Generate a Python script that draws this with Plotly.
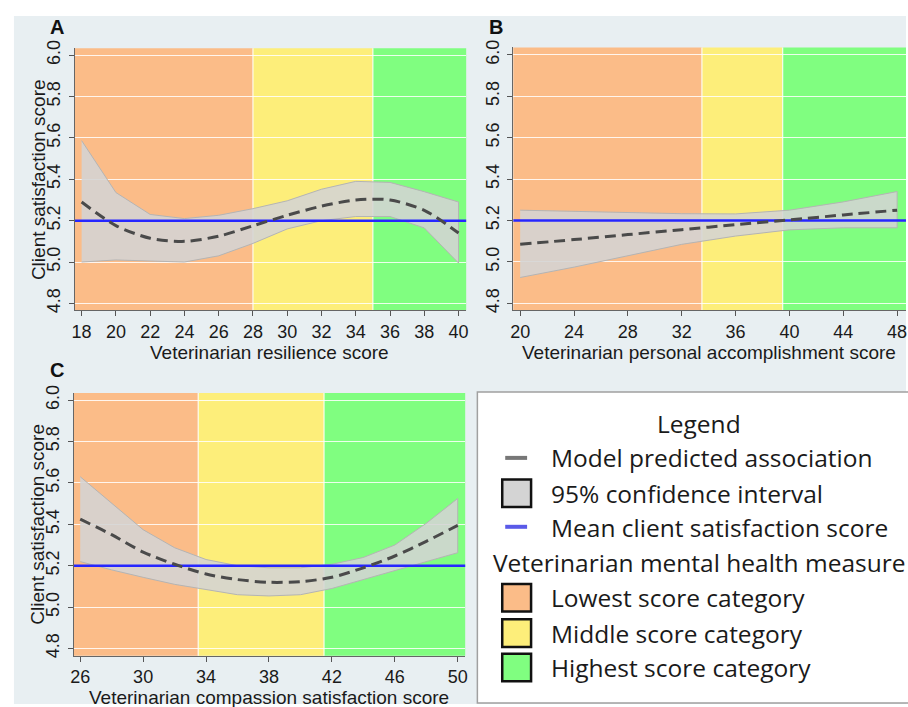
import plotly.graph_objects as go

# ---------------- data ----------------
A_x = [18, 20, 22, 24, 26, 28, 30, 32, 34, 36, 38, 40]
A_fit = [5.29, 5.176, 5.115, 5.10, 5.125, 5.175, 5.226, 5.27, 5.30, 5.30, 5.25, 5.14]
A_hi = [5.587, 5.336, 5.23, 5.21, 5.226, 5.258, 5.296, 5.352, 5.39, 5.385, 5.34, 5.29]
A_lo = [5.0, 5.01, 5.005, 5.0, 5.03, 5.09, 5.16, 5.2, 5.22, 5.22, 5.165, 4.995]
A_cuts = [28, 35]

B_x = [20, 24, 28, 32, 36, 40, 44, 48]
B_fit = [5.085, 5.108, 5.132, 5.156, 5.18, 5.203, 5.227, 5.25]
B_hi = [5.25, 5.245, 5.24, 5.233, 5.232, 5.25, 5.29, 5.34]
B_lo = [4.925, 4.975, 5.03, 5.085, 5.125, 5.155, 5.165, 5.165]
B_cuts = [33.5, 39.5]

C_x = [26, 28, 30, 32, 34, 36, 38, 40, 42, 44, 46, 48, 50]
C_fit = [5.425, 5.35, 5.266, 5.207, 5.16, 5.133, 5.12, 5.123, 5.144, 5.19, 5.247, 5.318, 5.395]
C_hi = [5.63, 5.50, 5.374, 5.287, 5.23, 5.20, 5.19, 5.19, 5.207, 5.24, 5.30, 5.405, 5.525]
C_lo = [5.22, 5.18, 5.144, 5.11, 5.085, 5.06, 5.054, 5.06, 5.09, 5.136, 5.176, 5.22, 5.263]
C_cuts = [33.5, 41.5]

mean_score = 5.2
y_ticks = [4.8, 5.0, 5.2, 5.4, 5.6, 5.8, 6.0]
A_ticks = [18, 20, 22, 24, 26, 28, 30, 32, 34, 36, 38, 40]
B_ticks = [20, 24, 28, 32, 36, 40, 44, 48]
C_ticks = [26, 30, 34, 38, 42, 46, 50]

titles_x = ["Veterinarian resilience score",
            "Veterinarian personal accomplishment score",
            "Veterinarian compassion satisfaction score"]
y_title = "Client satisfaction score"
legend_items = ["Model predicted association", "95% confidence interval",
                "Mean client satisfaction score"]
legend_sub = "Veterinarian mental health measure"
cat_items = ["Lowest score category", "Middle score category", "Highest score category"]

# ---------------- style ----------------
W, H = 908, 707
ORANGE = "#fbbc88"
YELLOW = "#fdee7a"
GREEN = "#80fe80"
BLUE = "#2626ff"
PANEL_BG = "#e8eff2"
CI_FILL = "rgba(212,212,212,0.88)"
CI_EDGE = "#b4b4b4"
FIT_COL = "#4a4a4a"
TXT = "#1a1a1a"
AX_FONT = "Liberation Sans, Arial, sans-serif"
LEG_FONT = "Open Sans, Noto Sans, sans-serif"
LEG_SIZE = 24.5

def px_x(p):
    return p / W

def px_y(p):
    return 1 - p / H

panels = [
    dict(ax="", x=A_x, fit=A_fit, hi=A_hi, lo=A_lo, cuts=A_cuts, ticks=A_ticks,
         xr=[17.59, 40.46], yr=[4.767, 6.033], dom_x=[72, 466], dom_y=[41, 307]),
    dict(ax="2", x=B_x, fit=B_fit, hi=B_hi, lo=B_lo, cuts=B_cuts, ticks=B_ticks,
         xr=[19.48, 48.66], yr=[4.767, 6.036], dom_x=[513, 908], dom_y=[40, 307]),
    dict(ax="3", x=C_x, fit=C_fit, hi=C_hi, lo=C_lo, cuts=C_cuts, ticks=C_ticks,
         xr=[25.58, 50.49], yr=[4.765, 6.035], dom_x=[71, 465], dom_y=[391, 658]),
]

fig = go.Figure()
shapes = []
annotations = []

def ann(text, x, y, size, font=AX_FONT, xanchor="center", angle=0, color=TXT):
    annotations.append(dict(text=text, x=px_x(x), y=px_y(y), xref="paper", yref="paper",
                            xanchor=xanchor, yanchor="middle", showarrow=False,
                            textangle=angle, font=dict(family=font, size=size, color=color)))

# panel background
shapes.append(dict(type="rect", xref="paper", yref="paper", x0=px_x(11), x1=1, y0=0,
                   y1=px_y(8), fillcolor=PANEL_BG, line=dict(width=0), layer="below"))

layout_axes = {}
for p in panels:
    xa = "x" + p["ax"]
    ya = "y" + p["ax"]
    # CI band
    fig.add_trace(go.Scatter(x=p["x"] + p["x"][::-1], y=p["hi"] + p["lo"][::-1],
                             xaxis=xa, yaxis=ya, fill="toself", fillcolor=CI_FILL,
                             line=dict(color=CI_EDGE, width=1), mode="lines",
                             hoverinfo="skip", showlegend=False))
    # mean line
    fig.add_trace(go.Scatter(x=p["xr"], y=[mean_score, mean_score], xaxis=xa, yaxis=ya,
                             mode="lines", line=dict(color=BLUE, width=2.5),
                             showlegend=False, hoverinfo="skip"))
    # fitted line
    fig.add_trace(go.Scatter(x=p["x"], y=p["fit"], xaxis=xa, yaxis=ya, mode="lines",
                             line=dict(color=FIT_COL, width=3, dash="11px,6px",
                                       shape="spline", smoothing=0.8),
                             showlegend=False, hoverinfo="skip"))
    # category regions
    edges = [p["xr"][0], p["cuts"][0], p["cuts"][1], p["xr"][1]]
    for i, col in enumerate([ORANGE, YELLOW, GREEN]):
        shapes.append(dict(type="rect", xref=xa, yref=ya + " domain", x0=edges[i],
                           x1=edges[i + 1], y0=0, y1=1, fillcolor=col,
                           line=dict(width=0), layer="below"))
    for c in p["cuts"]:
        shapes.append(dict(type="line", xref=xa, yref=ya + " domain", x0=c, x1=c,
                           y0=0, y1=1, line=dict(color="rgba(255,255,255,0.85)", width=1.2),
                           layer="below"))
    key = p["ax"]
    layout_axes["xaxis" + key] = dict(
        domain=[px_x(p["dom_x"][0]), px_x(p["dom_x"][1])], range=p["xr"],
        anchor=ya, tickvals=p["ticks"], ticks="outside", ticklen=5, tickcolor="#555",
        tickwidth=1, showline=True, linecolor="#666", linewidth=1, showgrid=False,
        zeroline=False, tickfont=dict(family=AX_FONT, size=18, color=TXT), fixedrange=True)
    layout_axes["yaxis" + key] = dict(
        domain=[px_y(p["dom_y"][1]), px_y(p["dom_y"][0])], range=p["yr"],
        anchor=xa, tickvals=y_ticks, ticktext=[f"{v:.1f}" for v in y_ticks],
        tickangle=-90, ticks="outside", ticklen=5, tickcolor="#555", tickwidth=1,
        ticklabelstandoff=1,
        showline=True, linecolor="#666", linewidth=1, showgrid=True,
        gridcolor="rgba(255,255,255,0.85)", gridwidth=1.2, zeroline=False,
        tickfont=dict(family=AX_FONT, size=18, color=TXT), fixedrange=True)

# panel letters
for lab, xx, yy in [("A", 54, 19), ("B", 496, 19), ("C", 54, 368)]:
    ann(f"<b>{lab}</b>", xx, yy, 20, color="#111")

# axis titles
for t, xx, yy in [(titles_x[0], 268, 350), (titles_x[1], 710, 350), (titles_x[2], 267, 700)]:
    ann(t, xx, yy, 19)
for yy in [174, 524]:
    ann(y_title, 35, yy, 19, angle=-90)

# legend box
shapes.append(dict(type="rect", xref="paper", yref="paper", x0=px_x(477), x1=px_x(915),
                   y0=px_y(706), y1=px_y(390), fillcolor="white",
                   line=dict(color="#a0a0a0", width=1.5), layer="above"))
ann("Legend", 700, 422, LEG_SIZE, font=LEG_FONT)
for txt, yy in zip(legend_items, [457, 493, 528]):
    ann(txt, 549, yy, LEG_SIZE, font=LEG_FONT, xanchor="left")
shapes.append(dict(type="line", xref="paper", yref="paper", x0=px_x(505), x1=px_x(527),
                   y0=px_y(457), y1=px_y(457), line=dict(color="#777", width=4)))
shapes.append(dict(type="rect", xref="paper", yref="paper", x0=px_x(502), x1=px_x(531),
                   y0=px_y(507), y1=px_y(479), fillcolor="#d4d4d4",
                   line=dict(color="#111", width=2.5)))
shapes.append(dict(type="line", xref="paper", yref="paper", x0=px_x(505), x1=px_x(527),
                   y0=px_y(527), y1=px_y(527), line=dict(color="#5a5ae8", width=4)))
ann(legend_sub, 491, 563, LEG_SIZE, font=LEG_FONT, xanchor="left")
for txt, yy, col in zip(cat_items, [599, 635, 670], [ORANGE, YELLOW, GREEN]):
    shapes.append(dict(type="rect", xref="paper", yref="paper", x0=px_x(502), x1=px_x(531),
                       y0=px_y(yy + 14), y1=px_y(yy - 14), fillcolor=col,
                       line=dict(color="#111", width=2.5)))
    ann(txt, 549, yy, LEG_SIZE, font=LEG_FONT, xanchor="left")

fig.update_layout(width=W, height=H, margin=dict(l=0, r=0, t=0, b=0),
                  paper_bgcolor="white", plot_bgcolor="rgba(0,0,0,0)",
                  shapes=shapes, annotations=annotations, showlegend=False,
                  **layout_axes)

fig.write_html("out.html", config={"displayModeBar": False},
               post_script="document.body.style.margin='0';document.body.style.overflow='hidden';")
